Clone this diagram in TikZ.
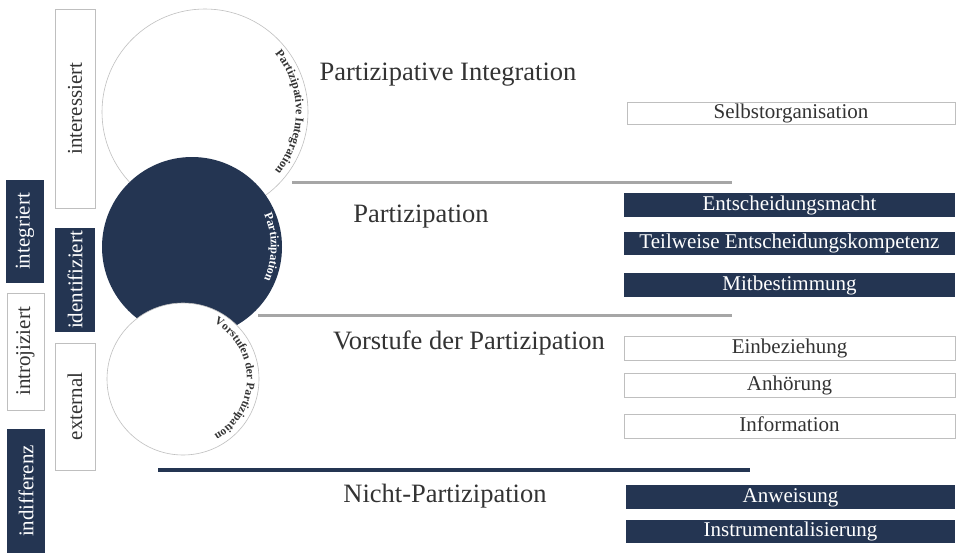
\documentclass[tikz,border=0pt]{standalone}
\usepackage{fontspec}
\setmainfont{Liberation Serif}
\usetikzlibrary{decorations.text}
\definecolor{navy}{HTML}{243552}
\definecolor{txt}{HTML}{333333}
\definecolor{bord}{HTML}{BFBFBF}
\definecolor{ruleg}{HTML}{A6A6A6}
\begin{document}
\begin{tikzpicture}[x=1pt,y=1pt,
  vbox/.style={rotate=90, inner sep=0pt, font=\fontsize{21}{24}\selectfont},
  vdark/.style={vbox, fill=navy, text=white},
  vlight/.style={vbox, fill=white, draw=bord, line width=0.6pt, text=txt},
  hbox/.style={inner sep=0pt, minimum height=24pt, text height=14pt, text depth=4pt, font=\fontsize{21}{24}\selectfont},
  hdark/.style={hbox, fill=navy, text=white},
  hlight/.style={hbox, fill=white, draw=bord, line width=0.6pt, text=txt},
  title/.style={inner sep=0pt, text=txt, font=\fontsize{26.5}{30}\selectfont},
  grayrule/.style={ruleg, line width=3pt},
  darkrule/.style={navy, line width=4pt}
]
\useasboundingbox (0,0) rectangle (956,-554);
\fill[white] (0,0) rectangle (956,-554);

% left columns
\node[vdark, minimum width=103pt, minimum height=38pt] (integriert) at (25,-231.5) {integriert};
\node[vlight, minimum width=117pt, minimum height=37pt] (introjiziert) at (25.5,-351.5) {introjiziert};
\node[vdark, minimum width=124pt, minimum height=38pt] (indifferenz) at (26,-491) {indifferenz};
\node[vlight, minimum width=199pt, minimum height=40pt] (interessiert) at (75,-108.5) {interessiert};
\node[vdark, minimum width=104pt, minimum height=40pt] (identifiziert) at (75,-280) {identifiziert};
\node[vlight, minimum width=127pt, minimum height=40pt] (external) at (75,-406.5) {external};

% circles
\coordinate (c1) at (205,-112);
\coordinate (c2) at (192,-247);
\coordinate (c3) at (183,-379);
\fill[white, draw=bord, line width=0.6pt] (c1) circle[radius=103];
\path[decorate, decoration={text along path, text align=center,
  text={|\fontsize{12}{12}\selectfont\bfseries\color{txt}|Partizipative Integration}}]
  ([shift={(48:91)}]c1) arc[start angle=48, end angle=-48, radius=91];
\fill[navy] (c2) circle[radius=90];
\path[decorate, decoration={text along path, text align=center,
  text={|\fontsize{12}{12}\selectfont\bfseries\color{white}|Partizipation}}]
  ([shift={(35:79)}]c2) arc[start angle=35, end angle=-35, radius=79];
\fill[white, draw=bord, line width=0.6pt] (c3) circle[radius=76];
\path[decorate, decoration={text along path, text align=center,
  text={|\fontsize{11.5}{12}\selectfont\bfseries\color{txt}|Vorstufen der Partizipation}}]
  ([shift={(75:64)}]c3) arc[start angle=75, end angle=-75, radius=64];

% rules
\coordinate (r1a) at (292,-182); \coordinate (r1b) at (732,-182);
\coordinate (r2a) at (258,-315); \coordinate (r2b) at (732,-315);
\coordinate (r3a) at (158,-470); \coordinate (r3b) at (750,-470);
\draw[grayrule] (r1a) -- (r1b);
\draw[grayrule] (r2a) -- (r2b);
\draw[darkrule] (r3a) -- (r3b);

% titles
\node[title] (t1) at (448,-75) {Partizipative Integration};
\node[title] (t2) at (421,-217) {Partizipation};
\node[title] (t3) at (469,-343) {Vorstufe der Partizipation};
\node[title] (t4) at (445,-496) {Nicht-Partizipation};

% right boxes
\node[hlight, minimum width=328pt, minimum height=22pt] (sel) at (791,-113) {Selbstorganisation};
\node[hdark, minimum width=331pt] (ent) at (789.5,-205) {Entscheidungsmacht};
\node[hdark, minimum width=331pt, minimum height=23pt] (teil) at (789.5,-243.5) {Teilweise Entscheidungskompetenz};
\node[hdark, minimum width=331pt] (mit) at (789.5,-285) {Mitbestimmung};
\node[hlight, minimum width=331pt] (einb) at (789.5,-348) {Einbeziehung};
\node[hlight, minimum width=331pt] (anh) at (789.5,-385) {Anhörung};
\node[hlight, minimum width=331pt] (inf) at (789.5,-426) {Information};
\node[hdark, minimum width=329pt] (anw) at (790.5,-497) {Anweisung};
\node[hdark, minimum width=329pt, minimum height=23pt] (instr) at (790.5,-531.5) {Instrumentalisierung};
\end{tikzpicture}
\end{document}
